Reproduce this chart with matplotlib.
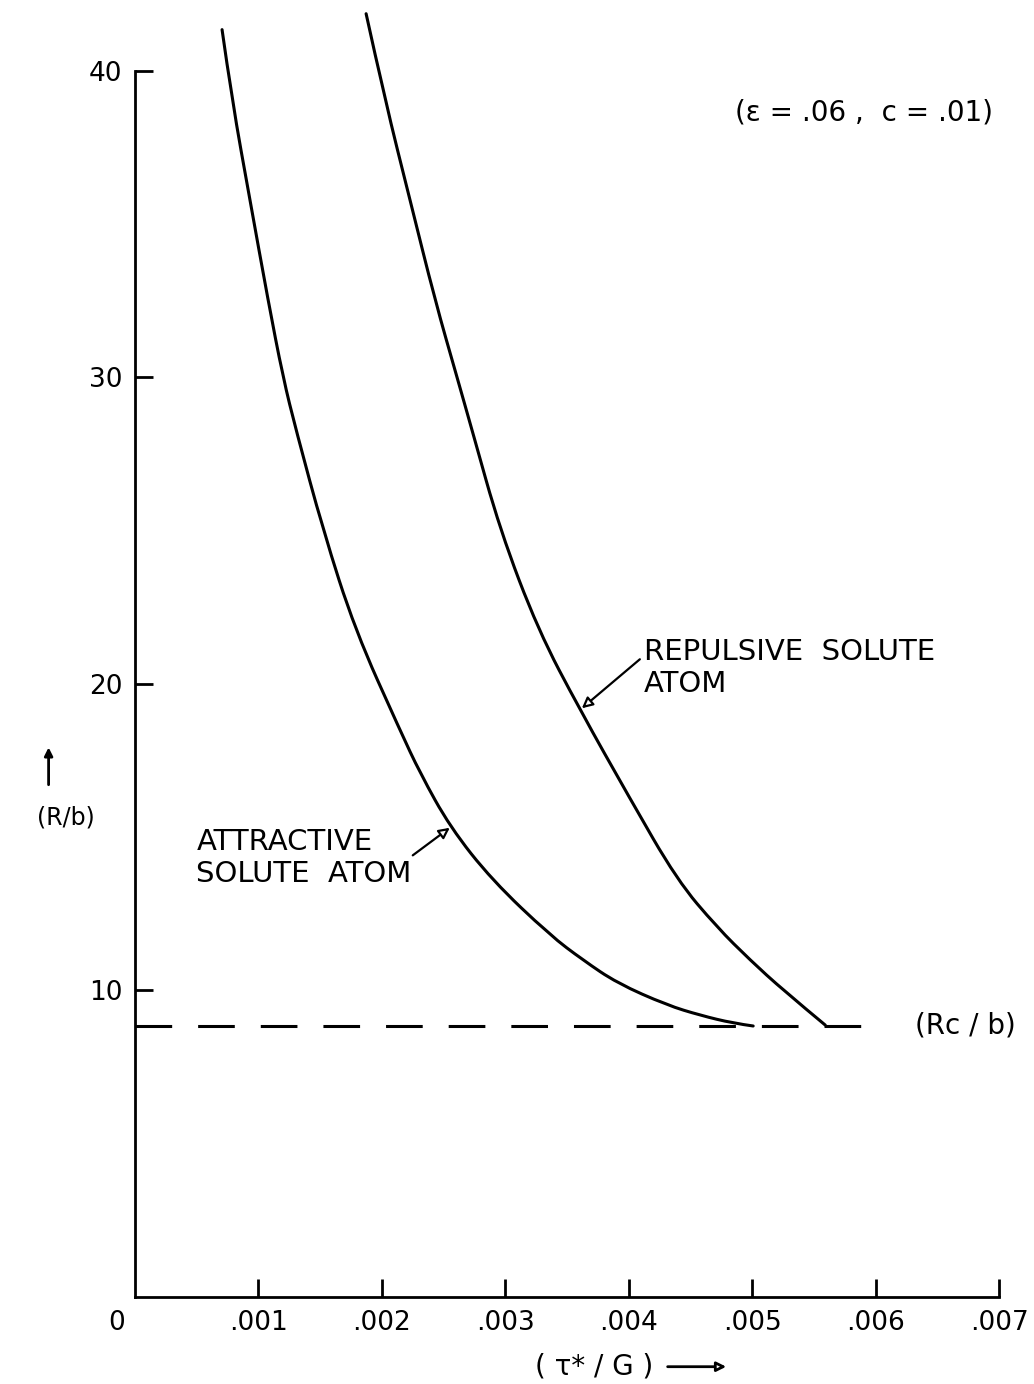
import numpy as np
import matplotlib.pyplot as plt
from matplotlib.path import Path
from matplotlib.patches import PathPatch, FancyArrowPatch

# 曲線データ (τ*/G, R/b)
attr_x = [0.000705, 0.000786, 0.000932, 0.001078, 0.001199, 0.001305, 0.001524,
          0.001783, 0.002147, 0.00231, 0.002553, 0.002893, 0.003363, 0.00363,
          0.003906, 0.004311, 0.004579, 0.004846, 0.005008]
attr_y = [41.35, 39.04, 35.77, 32.51, 30.0, 28.27, 25.01,
          21.75, 18.48, 17.08, 15.32, 13.59, 11.79, 10.98,
          10.23, 9.51, 9.18, 8.92, 8.83]

rep_x = [0.001872, 0.002026, 0.002229, 0.002431, 0.002609, 0.002731, 0.002958,
         0.003266, 0.003606, 0.004003, 0.004392, 0.004716, 0.004984, 0.005251,
         0.005592]
rep_y = [41.87, 39.04, 35.77, 32.51, 30.0, 28.27, 25.01,
         21.75, 19.14, 16.30, 13.59, 12.05, 10.98, 10.0,
         8.86]

rc_b = 8.83
x_ticks = [0.001, 0.002, 0.003, 0.004, 0.005, 0.006, 0.007]
x_labels = [".001", ".002", ".003", ".004", ".005", ".006", ".007"]
y_ticks = [10, 20, 30, 40]


def smooth_path(xs, ys):
    # 読み取った点を制御点にした2次ベジェで滑らかに描く
    pts = list(zip(xs, ys))
    verts = [pts[0]]
    codes = [Path.MOVETO]
    for i in range(1, len(pts) - 1):
        mid = ((pts[i][0] + pts[i + 1][0]) / 2, (pts[i][1] + pts[i + 1][1]) / 2)
        if i == len(pts) - 2:
            mid = pts[-1]
        verts += [pts[i], mid]
        codes += [Path.CURVE3, Path.CURVE3]
    return Path(verts, codes)


plt.rcParams["font.family"] = ["DejaVu Sans"]

fig = plt.figure(figsize=(10.34, 13.84), dpi=100)
ax = fig.add_axes([0.1306, 0.0632, 0.8356, 0.8855])

for xs, ys in [(attr_x, attr_y), (rep_x, rep_y)]:
    ax.add_patch(PathPatch(smooth_path(xs, ys), fc="none", ec="k", lw=2.2,
                           clip_on=False, capstyle="round"))
ax.plot([0, 0.0059], [rc_b, rc_b], color="k", lw=2.2, dashes=(12, 8.5))

ax.set_xlim(0, 0.007)
ax.set_ylim(0, 40)
ax.spines["top"].set_visible(False)
ax.spines["right"].set_visible(False)
for s in ["left", "bottom"]:
    ax.spines[s].set_linewidth(2)

ax.set_xticks(x_ticks)
ax.set_xticklabels(x_labels)
ax.set_yticks(y_ticks)
ax.tick_params(axis="both", direction="in", length=13, width=2, labelsize=19)
ax.tick_params(axis="x", pad=10)
ax.tick_params(axis="y", pad=9)

ax.annotate("0", xy=(0, 0), xytext=(-13, -19), textcoords="offset points",
            ha="center", va="center", fontsize=19)

# 軸ラベル
fig.text(0.064, 0.409, "(R/b)", ha="center", va="center", fontsize=17)
fig.add_artist(FancyArrowPatch(
    (0.047, 0.431), (0.047, 0.462), transform=fig.transFigure,
    arrowstyle="-|>", mutation_scale=12, lw=2, color="k"))
fig.text(0.575, 0.0125, "( τ* / G )", ha="center", va="center", fontsize=20)
fig.add_artist(FancyArrowPatch(
    (0.643, 0.0125), (0.705, 0.0125), transform=fig.transFigure,
    arrowstyle="-|>", mutation_scale=14, lw=2, color="k", fc="white"))

# 注記
fig.text(0.836, 0.919, "(ε = .06 ,  c = .01)", ha="center", va="center", fontsize=20)
fig.text(0.885, 0.2587, "(Rc / b)", ha="left", va="center", fontsize=20)
fig.text(0.623, 0.539, "REPULSIVE  SOLUTE\nATOM", ha="left", va="top",
         fontsize=21, linespacing=1.2)
fig.text(0.190, 0.402, "ATTRACTIVE\nSOLUTE  ATOM", ha="left", va="top",
         fontsize=21, linespacing=1.2)

ax.annotate("", xy=(0.00255, 15.3), xytext=(0.00225, 14.4),
            arrowprops=dict(arrowstyle="-|>", lw=1.6, color="k", fc="white",
                            mutation_scale=16, shrinkA=0, shrinkB=0))
ax.annotate("", xy=(0.00362, 19.2), xytext=(0.00409, 20.8),
            arrowprops=dict(arrowstyle="-|>", lw=1.6, color="k", fc="white",
                            mutation_scale=16, shrinkA=0, shrinkB=0))

plt.savefig("out.png", dpi=100)
